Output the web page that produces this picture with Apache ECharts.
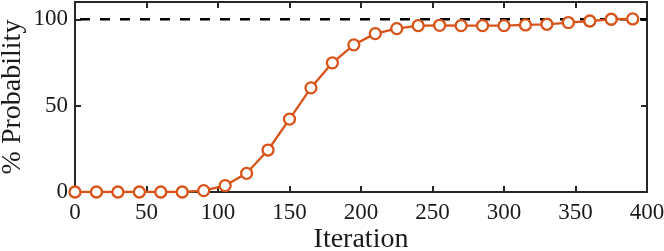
<!DOCTYPE html>
<html>
<head>
<meta charset="utf-8">
<script src="https://cdn.jsdelivr.net/npm/echarts@6/dist/echarts.min.js"></script>
<style>html,body{margin:0;padding:0;background:#fff}#c{width:664px;height:251px}</style>
</head>
<body>
<div id="c"></div>
<script>
const iterations = [0,15,30,45,60,75,90,105,120,135,150,165,180,195,210,225,240,255,270,285,300,315,330,345,360,375,390];
const probability = [0,0,0,0,0,0,0.8,3.7,10.8,24.3,42.2,60.3,74.8,85.2,91.7,94.6,96.3,96.5,96.3,96.3,96.3,96.7,97.1,98.1,99.0,100,100.2];
const refX = [0, 400];
const refY = [100, 100];
const xTicks = [0,50,100,150,200,250,300,350,400];
const yTicks = [0,50,100];

const font = 'Liberation Serif';
const axisColor = '#262626';
const textColor = '#1a1a1a';
const chart = echarts.init(document.getElementById('c'), null, {renderer:'canvas'});
const lineSty = {show:true,onZero:false,lineStyle:{color:axisColor,width:2}};
const tickSty = {show:true,inside:true,length:6,lineStyle:{color:axisColor,width:2}};
chart.setOption({
  animation:false,
  grid:{left:75,right:17,top:2,bottom:59,containLabel:false,outerBoundsMode:'none'},
  xAxis:[
    {type:'value',min:0,max:400,interval:50,position:'bottom',
      axisLine:lineSty,axisTick:tickSty,splitLine:{show:false},
      name:'Iteration',nameLocation:'middle',nameGap:34,nameMoveOverlap:false,
      nameTextStyle:{fontFamily:font,fontSize:28,color:textColor},
      axisLabel:{fontFamily:font,fontSize:23,color:textColor,margin:9}},
    {type:'value',min:0,max:400,interval:50,position:'top',
      axisLine:lineSty,axisTick:tickSty,splitLine:{show:false},
      axisLabel:{show:false}}
  ],
  yAxis:[
    {type:'value',min:0,max:110,position:'left',
      axisLine:lineSty,splitLine:{show:false},
      axisTick:Object.assign({customValues:yTicks},tickSty),
      axisLabel:{fontFamily:font,fontSize:23,color:textColor,margin:7,customValues:yTicks},
      name:'% Probability',nameLocation:'middle',nameGap:48,nameMoveOverlap:false,
      nameTextStyle:{fontFamily:font,fontSize:28,color:textColor}},
    {type:'value',min:0,max:110,position:'right',
      axisLine:lineSty,splitLine:{show:false},
      axisTick:Object.assign({customValues:yTicks},tickSty),
      axisLabel:{show:false}}
  ],
  series:[
    {type:'line',data:refX.map((x,i)=>[x,refY[i]]),symbol:'none',z:1,
      lineStyle:{color:'#000',width:2.5,type:[10,10],dashOffset:15}},
    {type:'line',data:iterations.map((x,i)=>[x,probability[i]]),z:3,
      symbol:'circle',symbolSize:11,
      itemStyle:{color:'#fff',borderColor:'#D95319',borderWidth:2.3},
      lineStyle:{color:'#D95319',width:2.3}}
  ]
});
</script>
</body>
</html>
